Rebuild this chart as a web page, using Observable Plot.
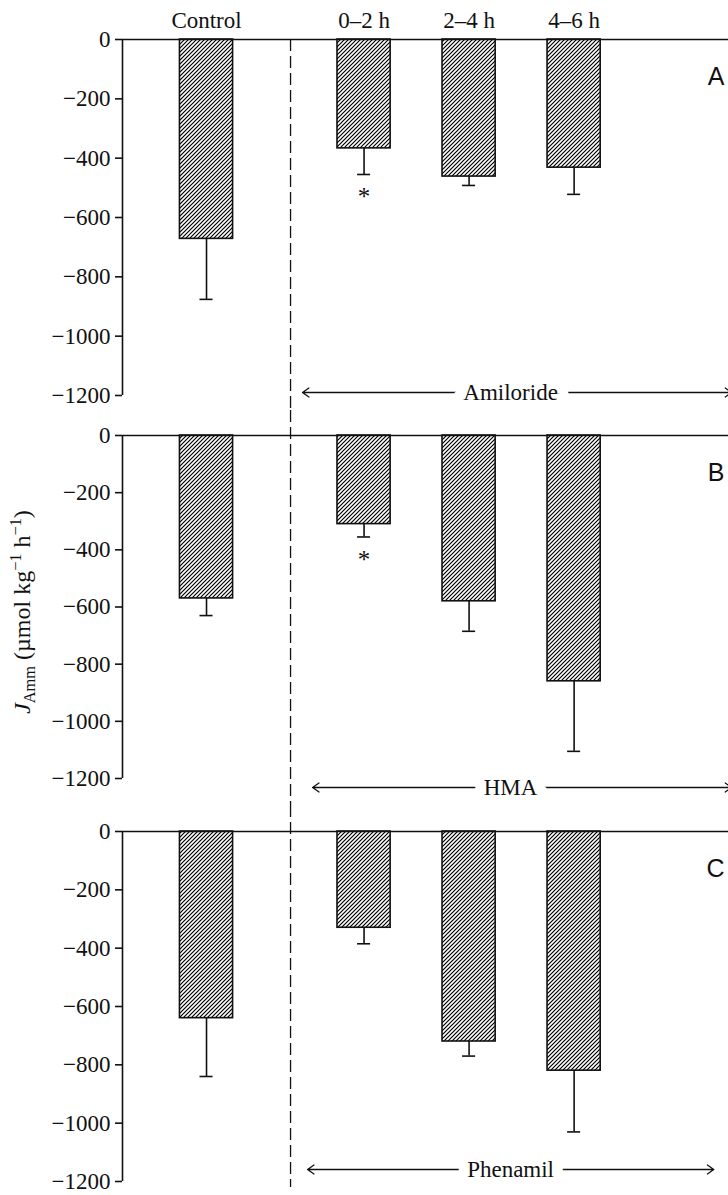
<!DOCTYPE html>
<html>
<head>
<meta charset="utf-8">
<script src="https://cdn.jsdelivr.net/npm/d3@7"></script>
<script src="https://cdn.jsdelivr.net/npm/@observablehq/plot@0.6"></script>
<style>
  body { margin: 0; background: #fff; }
  #wrap { position: relative; width: 728px; height: 1195px; overflow: hidden; font-family: "Liberation Serif", "Times New Roman", serif; }
  #wrap svg.panel { position: absolute; left: 0; }
  #ylabel { position: absolute; left: 23px; top: 612px; transform: translate(-50%, -50%) rotate(-90deg); white-space: nowrap; font-size: 24px; color: #111; }
  #ylabel sub, #ylabel sup { font-size: 68%; }
</style>
</head>
<body>
<svg width="0" height="0" style="position:absolute">
  <defs>
    <pattern id="hatch" patternUnits="userSpaceOnUse" width="4" height="4">
      <path d="M0,4 L4,0 M-1,1 L1,-1 M3,5 L5,3" stroke="#000" stroke-width="1.2"/>
    </pattern>
  </defs>
</svg>
<div id="wrap">
  <div id="ylabel"><i>J</i><sub>Amm</sub> (µmol kg<sup>−1</sup> h<sup>−1</sup>)</div>
</div>
<script>
// ---- data ----
const categories = ["Control", "0–2 h", "2–4 h", "4–6 h"];
const panelLetters = ["A", "B", "C"];
const treatments = ["Amiloride", "HMA", "Phenamil"];
const meansA = [-672, -367, -462, -432];
const errorsA = [-876, -455, -492, -522];
const meansB = [-570, -310, -580, -860];
const errorsB = [-630, -355, -685, -1105];
const meansC = [-640, -330, -720, -820];
const errorsC = [-840, -385, -770, -1030];
const starsA = ["", "*", "", ""];
const starsB = ["", "*", "", ""];
const starsC = ["", "", "", ""];
const yTicks = [0, -200, -400, -600, -800, -1000, -1200];

const means = [meansA, meansB, meansC];
const errors = [errorsA, errorsB, errorsC];
const stars = [starsA, starsB, starsC];

// ---- layout (pixels) ----
const W = 728, LEFT = 122;
const xDomain = [-0.8, 4.97];
const pxPerX = (W - LEFT) / (xDomain[1] - xDomain[0]);
const slot = i => (i === 0 ? 0 : i + 0.5);
const layout = [
  {top: 0,   height: 410, zero: 39,  bottom: 395,  dash: [39, 410],   arrowY: 392,  arrowX: [0.914, 5.0]},
  {top: 410, height: 395, zero: 435, bottom: 778,  dash: [410, 805],  arrowY: 787,  arrowX: [1.01, 5.0]},
  {top: 805, height: 390, zero: 831, bottom: 1181, dash: [805, 1187], arrowY: 1169, arrowX: [0.962, 4.83]}
];
const labelX = 2.895;
const dividerX = 0.8;
const ink = "#111";
const serif = "Liberation Serif, Times New Roman, serif";
const FS = 23;

const wrap = document.getElementById("wrap");

layout.forEach((L, k) => {
  const toVal = px => -(px - L.zero) * 1200 / (L.bottom - L.zero);
  const rows = categories.map((c, i) => ({cat: c, pos: slot(i), mean: means[k][i], err: errors[k][i], star: stars[k][i]}));
  const ay = toVal(L.arrowY);
  const marks = [
    Plot.ruleX([dividerX], {y1: toVal(L.dash[0]), y2: toVal(L.dash[1]), stroke: ink, strokeWidth: 1.3, strokeDasharray: "12,5"}),
    Plot.rect(rows, {x1: d => d.pos - 0.253, x2: d => d.pos + 0.253, y1: 0, y2: "mean", fill: "url(#hatch)", stroke: ink, strokeWidth: 1.6}),
    Plot.ruleX(rows, {x: "pos", y1: "mean", y2: "err", stroke: ink, strokeWidth: 1.6}),
    Plot.ruleY(rows, {y: "err", x1: d => d.pos - 0.062, x2: d => d.pos + 0.062, stroke: ink, strokeWidth: 1.6}),
    Plot.text(rows.filter(d => d.star), {x: "pos", y: "err", text: "star", dy: 23, fontSize: 25, fontFamily: serif, fill: ink}),
    // y tick marks and labels
    Plot.ruleY(yTicks, {x1: xDomain[0] - 7 / pxPerX, x2: xDomain[0], stroke: ink, strokeWidth: 1.6}),
    Plot.text(yTicks, {x: xDomain[0], y: d => d, dx: -12, textAnchor: "end", fontSize: FS, fontFamily: serif, fill: ink,
      text: d => (d === 0 ? "0" : "−" + Math.abs(d))}),
    Plot.ruleX([xDomain[0]], {y1: 0, y2: -1200, stroke: ink, strokeWidth: 1.6}),
    Plot.ruleY([0], {stroke: ink, strokeWidth: 1.6}),
    Plot.arrow([0, 1], {x1: labelX, y1: ay, x2: i => L.arrowX[i], y2: ay, stroke: ink, strokeWidth: 1.3, headLength: 9, headAngle: 70}),
    Plot.text([treatments[k]], {x: labelX, y: ay, text: d => d, fontSize: FS, fontFamily: serif, fill: ink, stroke: "white", strokeWidth: 22}),
    Plot.text([panelLetters[k]], {frameAnchor: "top-right", dx: -4, dy: 37, lineAnchor: "middle", text: d => d,
      fontFamily: "Liberation Sans, Arial, sans-serif", fontSize: 25, fill: ink})
  ];
  if (k === 0) {
    marks.push(Plot.text(rows, {x: "pos", y: 0, text: "cat", dy: -12, lineAnchor: "bottom", fontSize: FS, fontFamily: serif, fill: ink}));
  }
  const svg = Plot.plot({
    width: W,
    height: L.height,
    marginLeft: LEFT,
    marginRight: 0,
    marginTop: L.zero - L.top,
    marginBottom: L.top + L.height - L.bottom,
    x: {domain: xDomain, axis: null},
    y: {domain: [-1200, 0], axis: null},
    style: {fontFamily: serif, fontSize: FS + "px", color: ink, background: "transparent"},
    marks
  });
  svg.classList.add("panel");
  svg.style.top = L.top + "px";
  wrap.appendChild(svg);
});
</script>
</body>
</html>
